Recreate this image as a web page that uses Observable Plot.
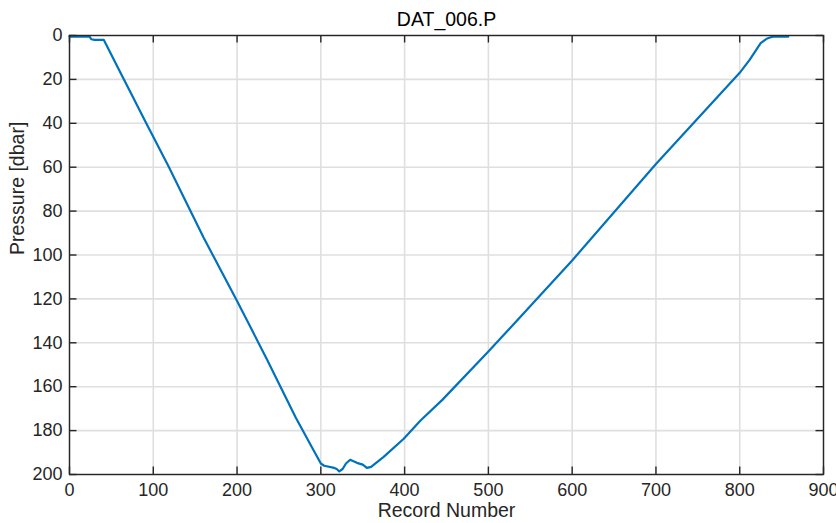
<!DOCTYPE html>
<html>
<head>
<meta charset="utf-8">
<script src="https://cdn.jsdelivr.net/npm/d3@7"></script>
<script src="https://cdn.jsdelivr.net/npm/@observablehq/plot@0.6"></script>
<style>
  html, body { margin: 0; padding: 0; background: #ffffff; }
</style>
</head>
<body>
<script>
const titleText = "DAT_006.P";
const xLabel = "Record Number";
const yLabel = "Pressure [dbar]";
const xTicks = [0, 100, 200, 300, 400, 500, 600, 700, 800, 900];
const yTicks = [0, 20, 40, 60, 80, 100, 120, 140, 160, 180, 200];

const records  = [0, 24, 26, 30, 41, 65, 91, 118, 160, 200, 235, 270, 290, 300, 304, 316, 319, 322, 326, 330, 335, 343, 350, 355, 360, 375, 399, 419, 445, 500, 600, 700, 800, 812, 825, 832, 837, 840, 858];
const pressure = [0.5, 0.5, 1.7, 2, 2, 20, 39.5, 59.5, 92, 121, 147, 174, 188, 195, 196, 197, 197.5, 198.6, 197.5, 195, 193.3, 194.7, 195.5, 197, 196.5, 192, 183.7, 175.4, 166, 144, 102.5, 58.5, 17, 11, 3.5, 1.5, 0.8, 0.5, 0.5];

const data = records.map((r, i) => ({rec: r, p: pressure[i]}));

const W = 836, H = 523, ML = 69, MR = 13, MT = 35, MB = 49;
const fw = W - ML - MR, fh = H - MT - MB, tl = 7.5;
const ink = "#262626";

const chart = Plot.plot({
  width: W, height: H,
  marginLeft: ML, marginRight: MR, marginTop: MT, marginBottom: MB,
  style: {fontFamily: "'Liberation Sans', Arial, Helvetica, sans-serif", fontSize: "18px", color: ink, background: "#ffffff", overflow: "visible"},
  x: {domain: [0, 900], label: null},
  y: {domain: [0, 200], reverse: true, label: null},
  marks: [
    Plot.gridX(xTicks, {stroke: "#dfdfdf", strokeOpacity: 1, strokeWidth: 1.6}),
    Plot.gridY(yTicks, {stroke: "#dfdfdf", strokeOpacity: 1, strokeWidth: 1.6}),
    Plot.line(data, {x: "rec", y: "p", stroke: "#0072BD", strokeWidth: 2.2}),
    Plot.frame({stroke: ink, strokeWidth: 1.4}),
    Plot.ruleX(xTicks, {stroke: ink, strokeWidth: 1.4, insetTop: fh - tl}),
    Plot.ruleX(xTicks, {stroke: ink, strokeWidth: 1.4, insetBottom: fh - tl}),
    Plot.ruleY(yTicks, {stroke: ink, strokeWidth: 1.4, insetRight: fw - tl}),
    Plot.ruleY(yTicks, {stroke: ink, strokeWidth: 1.4, insetLeft: fw - tl}),
    Plot.axisX(xTicks, {tickSize: 0, tickPadding: 9, label: null, fill: ink}),
    Plot.axisY(yTicks, {tickSize: 0, tickPadding: 7, label: null, fill: ink}),
    Plot.text([xLabel], {frameAnchor: "bottom", dy: 42, fontSize: 19.5, fill: ink}),
    Plot.text([yLabel], {frameAnchor: "left", dx: -52, rotate: -90, fontSize: 19.5, fill: ink}),
    Plot.text([titleText], {frameAnchor: "top", dy: -23, fontSize: 19.5, fill: "#000000"})
  ]
});
document.body.appendChild(chart);
</script>
</body>
</html>
